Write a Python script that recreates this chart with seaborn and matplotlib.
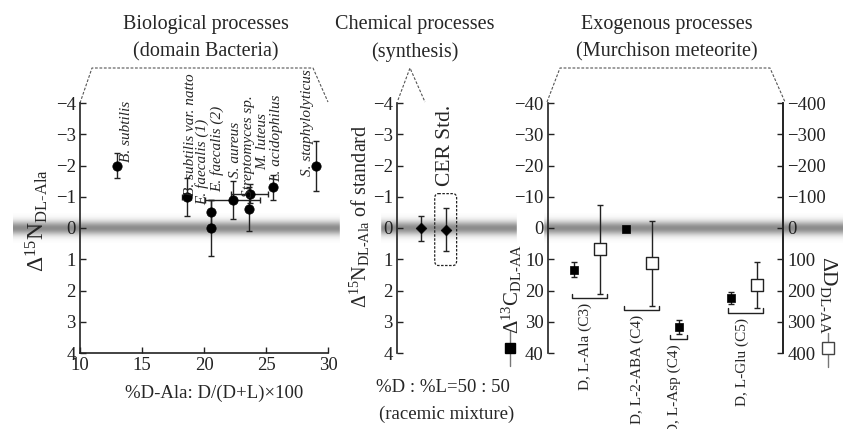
import numpy as np
import matplotlib
matplotlib.use('Agg')
import matplotlib.pyplot as plt
from matplotlib.patches import FancyBboxPatch, Rectangle
import seaborn as sns

# biological processes (bacteria)
species = ['B. subtilis', 'B. subtilis var. natto', 'E. faecalis (1)', 'E. faecalis (2)',
           'S. aureus', 'Streptomyces sp.', 'M. luteus', 'L. acidophilus', 'S. staphylolyticus']
d_ala = [13.0, 18.6, 20.6, 20.6, 22.3, 23.7, 23.6, 25.6, 29.0]
d_ala_err = [0.0, 0.35, 0.0, 0.0, 2.2, 1.5, 0.0, 0.0, 0.0]
d15n = [-2.0, -1.0, -0.5, 0.0, -0.9, -1.1, -0.6, -1.3, -2.0]
d15n_err = [0.4, 0.6, 0.4, 0.9, 0.6, 0.3, 0.7, 0.4, 0.8]

# chemical synthesis standards
std_val = [0.0, 0.05]
std_err = [0.4, 0.7]

# Murchison meteorite
amino = ['D, L-Ala (C3)', 'D, L-2-ABA (C4)', 'D, L-Asp (C4)', 'D, L-Glu (C5)']
d13c = [13.3, 0.3, 31.7, 22.4]
d13c_err = [2.4, 0.5, 2.3, 2.0]
dD = [68, 112, np.nan, 182]
dD_err = [142, 136, np.nan, 74]

W, H = 843, 429


def rect(l, t, r, b):
    return [l / W, 1 - b / H, (r - l) / W, (b - t) / H]


def fx(x):
    return x / W


def fy(y):
    return 1 - y / H


def style_axis(ax, spines):
    for s in ['left', 'right', 'top', 'bottom']:
        ax.spines[s].set_visible(s in spines)
        ax.spines[s].set_linewidth(1.2)
        ax.spines[s].set_color('#222222')
    ax.tick_params(direction='in', length=4, width=1, colors='#222222',
                   labelsize=13.5, pad=3)
    ax.patch.set_alpha(0)


sns.set_theme(style='ticks')
plt.rcParams['font.family'] = ['Liberation Serif', 'DejaVu Serif']
plt.rcParams['mathtext.fontset'] = 'custom'
plt.rcParams['mathtext.rm'] = 'Liberation Serif'
plt.rcParams['mathtext.it'] = 'Liberation Serif:italic'
plt.rcParams['mathtext.bf'] = 'Liberation Serif:bold'
plt.rcParams['axes.unicode_minus'] = True

fig = plt.figure(figsize=(W / 100, H / 100), dpi=100)
fig.patch.set_facecolor('white')

# background layer in pixel coordinates: grey zero band, dashed connectors
bg = fig.add_axes([0, 0, 1, 1], zorder=-10)
bg.set_xlim(0, W)
bg.set_ylim(H, 0)
bg.axis('off')
yy = np.linspace(-15, 15, 61)
prof = np.exp(-(yy / 7.0) ** 2)
band = np.zeros((len(yy), 2, 4))
band[..., :3] = 0.42
band[..., 3] = (prof * 0.78)[:, None]
bg.imshow(band, extent=(13, W, 243, 213), aspect='auto', interpolation='bilinear')
bg.add_patch(Rectangle((340, 208), 40, 40, color='white', zorder=2))
bg.add_patch(Rectangle((517, 208), 26, 40, color='white', zorder=2))
dash = dict(color='#555555', lw=0.8, ls=(0, (2.5, 1.5)))
bg.plot([80, 92, 313, 328], [103, 68, 68, 102], **dash)
bg.plot([398, 410, 425], [100, 68, 102], **dash)
bg.plot([547, 560, 770, 785], [102, 68, 68, 102], **dash)
# legend keys next to the exogenous y labels
bg.plot([510, 510], [331, 366], color='#777777', lw=1)
bg.plot([510], [348], marker='s', ms=7, color='black')
bg.plot([828, 828], [333, 367], color='#777777', lw=1)
bg.plot([828], [348], marker='s', ms=8, mfc='white', mec='#444444', mew=1)

ebar = dict(fmt='none', ecolor='#222222', elinewidth=1, capsize=2.5, capthick=1, zorder=2)

# ---- panel 1
ax1 = fig.add_axes(rect(80, 103, 328, 353))
style_axis(ax1, ['left', 'bottom'])
x1 = np.array(d_ala)
y1 = np.array(d15n)
ax1.errorbar(x1, y1, yerr=d15n_err, **ebar)
xe = np.array(d_ala_err)
m = xe > 0
ax1.errorbar(x1[m], y1[m], xerr=xe[m], **ebar)
sns.scatterplot(x=x1, y=y1, ax=ax1, color='black', s=45, edgecolor='black',
                zorder=3, legend=False)
ax1.set_xlim(10, 30)
ax1.set_ylim(4, -4)
ax1.set_xticks([10, 15, 20, 25, 30])
ax1.set_yticks(range(-4, 5))
offsets = [(9, 3), (4, 1), (-9, 7), (6, 36), (3, 22), (-1, -3), (14, 39), (3, 5), (-8, -11)]
for name, x, y, off in zip(species, d_ala, d15n, offsets):
    ax1.annotate(name, (x, y), xytext=off, textcoords='offset pixels', rotation=90,
                 rotation_mode='anchor', ha='left', va='center', fontsize=11,
                 fontstyle='italic', annotation_clip=False)

# ---- panel 2
ax2 = fig.add_axes(rect(397, 103, 470, 353))
style_axis(ax2, ['left'])
xs = np.arange(1, len(std_val) + 1)
ax2.errorbar(xs, std_val, yerr=std_err, **ebar)
sns.scatterplot(x=xs, y=std_val, ax=ax2, color='black', marker='D', s=30,
                edgecolor='black', zorder=3, legend=False)
ax2.set_xlim(0, 3)
ax2.set_ylim(4, -4)
ax2.set_xticks([])
ax2.set_yticks(range(-4, 5))
ax2.add_patch(FancyBboxPatch((xs[1] - 0.45, std_val[1] - 1.15), 0.9, 2.3,
                             boxstyle='round,pad=0,rounding_size=0.15',
                             fill=False, ec='#222222', lw=0.9, ls=(0, (2, 1.2))))
ax2.annotate('CER Std.', (xs[1], std_val[1] - 1.15), xytext=(0, 8),
             textcoords='offset pixels', rotation=90, rotation_mode='anchor',
             ha='left', va='center', fontsize=15.5)

# ---- panel 3
ax3 = fig.add_axes(rect(548, 103, 783, 353))
style_axis(ax3, ['left', 'right'])
ax3.tick_params(right=False)
c_pos = np.arange(len(amino)) * 2 + 1
d_pos = c_pos + 1
ax3.errorbar(c_pos, d13c, yerr=d13c_err, **ebar)
sns.scatterplot(x=c_pos, y=d13c, ax=ax3, color='black', marker='s', s=38,
                edgecolor='black', zorder=3, legend=False)
ax3.set_xlim(0, 9)
ax3.set_ylim(40, -40)
ax3.set_yticks(range(-40, 41, 10))
ax3.set_xticks([])

ax3r = ax3.twinx()
style_axis(ax3r, ['right'])
dDa = np.array(dD, dtype=float)
dEa = np.array(dD_err, dtype=float)
ok = ~np.isnan(dDa)
ax3r.errorbar(d_pos[ok], dDa[ok], yerr=dEa[ok], **ebar)
sns.scatterplot(x=d_pos[ok], y=dDa[ok], ax=ax3r, color='white', marker='s', s=85,
                edgecolor='#222222', linewidth=1, zorder=3, legend=False)
ax3r.set_ylim(400, -400)
ax3r.set_yticks(range(-400, 401, 100))
ax3r.set_xlim(0, 9)

# brackets and rotated labels under each amino acid
c_lo = np.array(d13c) + np.array(d13c_err)
d_lo = (dDa + dEa) / 10
for i, name in enumerate(amino):
    low = c_lo[i] if np.isnan(d_lo[i]) else max(c_lo[i], d_lo[i])
    by = low + 1.5
    if ok[i]:
        bx0, bx1 = c_pos[i] - 0.1, d_pos[i] + 0.25
    else:
        bx0, bx1 = c_pos[i] - 0.33, c_pos[i] + 0.33
    ax3.plot([bx0, bx0, bx1, bx1], [by - 1.4, by, by, by - 1.4], color='#222222',
             lw=1, clip_on=False)
    ax3.annotate(name, ((bx0 + bx1) / 2, by), xytext=(-4, -5), textcoords='offset pixels',
                 rotation=90, rotation_mode='anchor', ha='right', va='center',
                 fontsize=11, annotation_clip=False)

# ---- y labels
fig.text(fx(37), fy(220), r'$\Delta^{15}\mathrm{N}_{\mathrm{DL}\text{-}\mathrm{Ala}}$',
         rotation=90, ha='center', va='center', fontsize=17)
fig.text(fx(360), fy(216), r'$\Delta^{15}\mathrm{N}_{\mathrm{DL}\text{-}\mathrm{Ala}}$ of standard',
         rotation=90, ha='center', va='center', fontsize=14.5)
fig.text(fx(512), fy(289), r'$\Delta^{13}\mathrm{C}_{\mathrm{DL}\text{-}\mathrm{AA}}$',
         rotation=90, ha='center', va='center', fontsize=15)
fig.text(fx(829), fy(295), r'$\Delta\mathrm{D}_{\mathrm{DL}\text{-}\mathrm{AA}}$',
         rotation=270, ha='center', va='center', fontsize=15.5)

# ---- titles and bottom captions
titles = [(206, 'Biological processes', '(domain Bacteria)'),
          (415, 'Chemical processes', '(synthesis)'),
          (667, 'Exogenous processes', '(Murchison meteorite)')]
for x, t1, t2 in titles:
    fig.text(fx(x), fy(25), t1, ha='center', va='center', fontsize=14.5)
    fig.text(fx(x), fy(52), t2, ha='center', va='center', fontsize=14.5)

fig.text(fx(214), fy(393), '%D-Ala: D/(D+L)\u00d7100', ha='center', va='center', fontsize=13.5)
fig.text(fx(443), fy(388), '%D : %L=50 : 50', ha='center', va='center', fontsize=13.5)
fig.text(fx(447), fy(414), '(racemic mixture)', ha='center', va='center', fontsize=13.5)

fig.savefig('out.png', dpi=100)
